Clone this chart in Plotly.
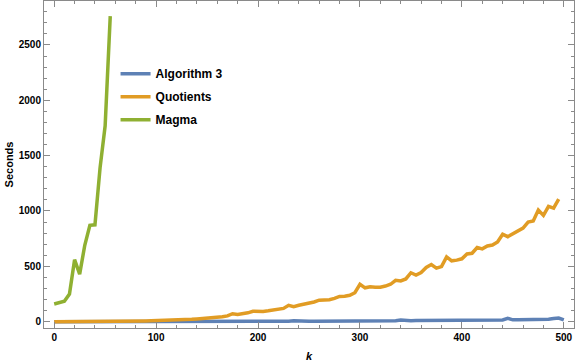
import plotly.graph_objects as go

k_algo = list(range(0, 505, 5))
algo3 = [
    0, 0, 0, 0, 0, 0, 0, 0, 0, 0,
    1, 1, 1, 1, 1, 1, 1, 1, 1, 1,
    2, 2, 2, 2, 2, 2, 2, 2, 2, 3,
    3, 3, 3, 3, 3, 3, 3, 3, 4, 4,
    4, 4, 4, 4, 4, 4, 4, 8, 5, 5,
    5, 5, 5, 6, 6, 6, 6, 6, 7, 7,
    7, 7, 7, 8, 8, 8, 9, 9, 15, 9,
    9, 10, 10, 10, 10, 11, 11, 16, 11, 12,
    12, 12, 13, 13, 14, 14, 15, 15, 16, 30,
    17, 18, 18, 18, 19, 19, 20, 22, 28, 33,
    16,
]

k_quot = list(range(0, 500, 5))
quotients = [
    0, 0, 0, 0, 0, 0, 0, 0, 1, 1,
    1, 2, 2, 2, 3, 4, 5, 6, 7, 8,
    9, 11, 12, 14, 16, 18, 20, 22, 25, 28,
    32, 36, 40, 44, 52, 72, 66, 72, 80, 94,
    90, 92, 98, 106, 112, 120, 148, 136, 148, 156,
    164, 178, 194, 198, 198, 210, 228, 230, 238, 262,
    338, 306, 316, 312, 312, 322, 338, 374, 368, 386,
    442, 422, 444, 490, 516, 484, 498, 586, 550, 556,
    568, 612, 618, 670, 658, 684, 692, 720, 790, 768,
    796, 820, 846, 900, 910, 1008, 960, 1042, 1026, 1108,
]

k_magma = list(range(0, 60, 5))
magma = [160, 175, 185, 250, 560, 430, 690, 870, 875, 1390, 1770, 2760]

series = [
    ('Algorithm 3', k_algo, algo3, '#5E81B5'),
    ('Quotients', k_quot, quotients, '#E19C24'),
    ('Magma', k_magma, magma, '#8FB032'),
]

FONT = 'Arial, Liberation Sans, sans-serif'
FRAME = '#8a8a8a'

traces = []
for label, x, y, color in series:
    traces.append(
        go.Scatter(
            x=x,
            y=y,
            name=label,
            legendgroup=label,
            mode='lines',
            line=dict(color=color, width=3.5),
        )
    )

axis_common = dict(
    showgrid=False,
    zeroline=False,
    showline=True,
    linecolor=FRAME,
    linewidth=1,
    mirror='ticks',
    ticks='inside',
    tickcolor=FRAME,
    ticklen=6,
    tickwidth=1,
    tickfont=dict(family=FONT, size=10, color='black', weight='bold'),
)

layout = dict(
    width=576,
    height=364,
    margin=dict(l=44, r=2, t=1, b=36),
    paper_bgcolor='white',
    plot_bgcolor='white',
    font=dict(family=FONT, color='black'),
    legend=dict(
        x=0.135,
        y=0.822,
        xanchor='left',
        yanchor='top',
        bgcolor='rgba(0,0,0,0)',
        tracegroupgap=4,
        font=dict(family=FONT, size=12, color='black', weight='bold'),
    ),
    xaxis=dict(
        axis_common,
        range=[-10, 510],
        dtick=100,
        tick0=0,
        minor=dict(dtick=20, ticks='inside', ticklen=3, tickcolor=FRAME),
        title=dict(
            text='<i>k</i>',
            standoff=10,
            font=dict(family=FONT, size=11, weight='bold'),
        ),
    ),
    yaxis=dict(
        axis_common,
        range=[-57, 2897],
        dtick=500,
        tick0=0,
        minor=dict(dtick=100, ticks='inside', ticklen=3, tickcolor=FRAME),
        title=dict(
            text='Seconds',
            standoff=2,
            font=dict(family=FONT, size=11, weight='bold'),
        ),
    ),
)

fig = go.Figure(data=traces, layout=layout)
fig.write_html(
    'out.html',
    config=dict(displayModeBar=False),
    post_script="document.body.style.margin='0';",
)
